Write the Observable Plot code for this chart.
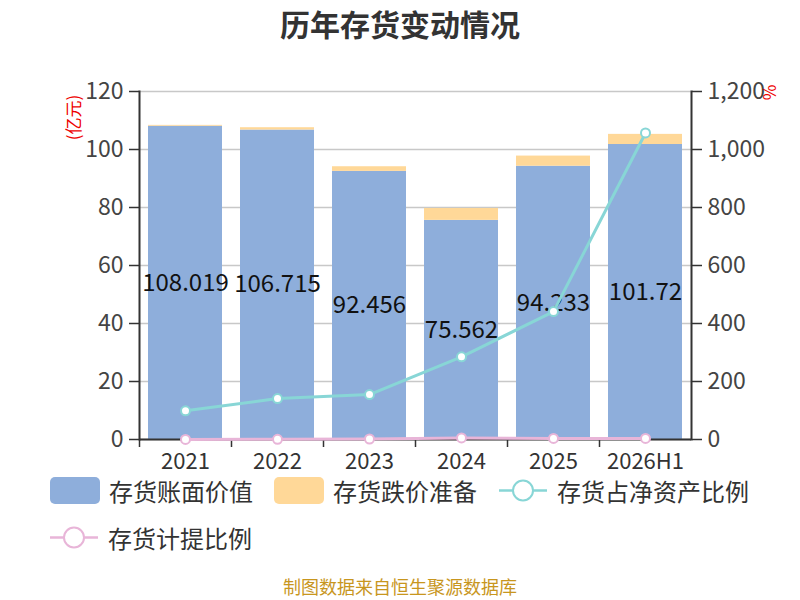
<!DOCTYPE html>
<html><head><meta charset="utf-8">
<script src="https://cdn.jsdelivr.net/npm/d3@7"></script>
<script src="https://cdn.jsdelivr.net/npm/@observablehq/plot@0.6"></script>
<style>
body{margin:0;background:#fff;font-family:"Noto Sans CJK SC","Noto Sans",sans-serif;}
#wrap{position:relative;width:800px;height:600px;overflow:hidden;}
#wrap svg.plot{position:absolute;left:0;top:0;}
.title{position:absolute;left:0;width:800px;top:4px;text-align:center;font-size:30px;font-weight:bold;color:#333;line-height:38px;}
.cap{position:absolute;left:0;width:800px;top:576px;text-align:center;font-size:18px;color:#c8961e;line-height:20px;}
.leg{position:absolute;display:flex;align-items:center;font-size:24px;color:#333;line-height:27px;height:27px;white-space:nowrap;}
.sw{width:50px;height:27px;border-radius:5px;margin-right:9px;}
.red{position:absolute;color:#e00;font-size:17px;transform:rotate(-90deg);transform-origin:center;white-space:nowrap;}
</style></head>
<body><div id="wrap"></div>
<script>
const years = ["2021","2022","2023","2024","2025","2026H1"];
const bookValue = [108.019, 106.715, 92.456, 75.562, 94.233, 101.72];
const impairment = [0.3, 0.8, 1.6, 4.1, 3.5, 3.5];
const netAssetRatio = [99, 141, 155, 285, 441, 1057];
const provisionRatio = [0.3, 0.8, 1.7, 5.3, 3.6, 3.5];
const leftTicks = [0, 20, 40, 60, 80, 100, 120];
const rightTicks = [0, 200, 400, 600, 800, 1000, 1200];
const seriesNames = ["存货账面价值", "存货跌价准备", "存货占净资产比例", "存货计提比例"];
const colors = ["#8eaedb", "#ffd898", "#88d6d6", "#e8b5d8"];

const W = 800, H = 476, mL = 139, mR = 109, mT = 91, mB = 37;
const step = (W - mL - mR) / years.length;

const barRows = [];
years.forEach((y, i) => {
  barRows.push({year: y, series: seriesNames[0], value: bookValue[i]});
  barRows.push({year: y, series: seriesNames[1], value: impairment[i]});
});
const labelRows = years.map((y, i) => ({year: y, value: bookValue[i]}));
const lineRows1 = years.map((y, i) => ({year: y, value: netAssetRatio[i]}));
const lineRows2 = years.map((y, i) => ({year: y, value: provisionRatio[i]}));

const xOpts = {domain: years, paddingInner: 0.2, paddingOuter: 0.1, axis: null};
const common = {width: W, height: H, marginLeft: mL, marginRight: mR, marginTop: mT, marginBottom: mB,
  style: {fontSize: "23px", color: "#333", fontFamily: "'Noto Sans CJK SC','Noto Sans',sans-serif", background: "transparent"}};

const p1 = Plot.plot({
  ...common,
  x: xOpts,
  y: {domain: [0, 120], axis: null},
  color: {domain: seriesNames.slice(0, 2), range: colors.slice(0, 2)},
  marks: [
    Plot.gridY(leftTicks, {stroke: "#c8c8c8", strokeOpacity: 1, strokeWidth: 1.5}),
    Plot.barY(barRows, {x: "year", y: "value", fill: "series", order: seriesNames}),
    Plot.text(labelRows, {x: "year", y: d => d.value / 2, text: d => String(d.value), fontSize: 24, fill: "#111"}),
    Plot.axisY(leftTicks, {anchor: "left", tickSize: 10, tickPadding: 6, label: null, stroke: "#333", strokeWidth: 1.5, fontSize: 23, fill: "#444"}),
    Plot.axisX({tickSize: 0, tickPadding: 14, label: null, fontSize: 22, fill: "#333"}),
    Plot.axisX({tickSize: 8, text: null, label: null, dx: -step / 2, stroke: "#333", strokeWidth: 1.5}),
    Plot.frame({anchor: "left", stroke: "#333", strokeWidth: 2}),
    Plot.ruleY([0], {stroke: "#333", strokeWidth: 2})
  ]
});
p1.classList.add("plot");

const p2 = Plot.plot({
  ...common,
  x: xOpts,
  y: {domain: [0, 1200], axis: null},
  marks: [
    Plot.axisY(rightTicks, {anchor: "right", tickSize: 10, tickPadding: 6, label: null, tickFormat: d3.format(","), stroke: "#333", strokeWidth: 1.5, fontSize: 23, fill: "#444"}),
    Plot.frame({anchor: "right", stroke: "#333", strokeWidth: 2}),
    Plot.line(lineRows2, {x: "year", y: "value", stroke: colors[3], strokeWidth: 3}),
    Plot.dot(lineRows2, {x: "year", y: "value", r: 4.5, fill: "#fff", stroke: colors[3], strokeWidth: 2}),
    Plot.line(lineRows1, {x: "year", y: "value", stroke: colors[2], strokeWidth: 3}),
    Plot.dot(lineRows1, {x: "year", y: "value", r: 4.5, fill: "#fff", stroke: colors[2], strokeWidth: 2})
  ]
});
p2.classList.add("plot");

const wrap = document.getElementById("wrap");
wrap.appendChild(p1);
wrap.appendChild(p2);

function addDiv(cls, html, style) {
  const d = document.createElement("div");
  d.className = cls; d.innerHTML = html;
  Object.assign(d.style, style || {});
  wrap.appendChild(d);
  return d;
}
addDiv("title", "历年存货变动情况");
addDiv("cap", "制图数据来自恒生聚源数据库");
addDiv("red", "(亿元)", {left: "50px", top: "105px"});
addDiv("red", "%", {left: "761px", top: "80px"});

function lineMarker(c) {
  return `<svg width="50" height="27" style="margin-right:9px"><line x1="1" y1="13.5" x2="49" y2="13.5" stroke="${c}" stroke-width="2.5"/><circle cx="25" cy="13.5" r="10" fill="#fff" stroke="${c}" stroke-width="2"/></svg>`;
}
addDiv("leg", `<div class="sw" style="background:${colors[0]}"></div>${seriesNames[0]}`, {left: "50px", top: "477px"});
addDiv("leg", `<div class="sw" style="background:${colors[1]}"></div>${seriesNames[1]}`, {left: "274px", top: "477px"});
addDiv("leg", lineMarker(colors[2]) + seriesNames[2], {left: "498px", top: "477px"});
addDiv("leg", lineMarker(colors[3]) + seriesNames[3], {left: "49px", top: "524px"});
</script>
</body></html>
